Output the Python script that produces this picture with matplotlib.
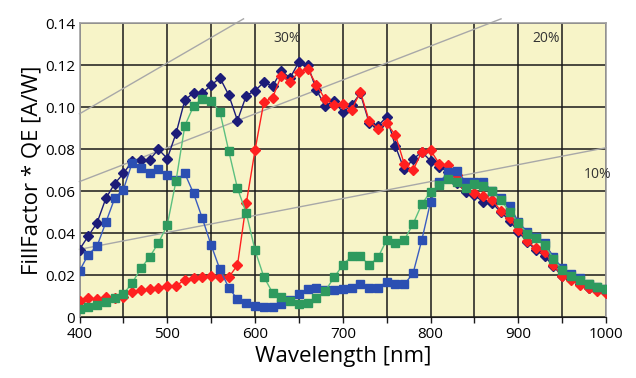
import numpy as np
import matplotlib
matplotlib.use('Agg')
import matplotlib.pyplot as plt

plt.rcParams['font.family'] = ['Open Sans', 'DejaVu Sans']

wavelength = np.arange(400, 1001, 10)

mono = [0.0322, 0.0386, 0.0449, 0.0565, 0.0635, 0.0684, 0.0742, 0.0748, 0.0750, 0.0799,
        0.0755, 0.0875, 0.1033, 0.1068, 0.1067, 0.1104, 0.1139, 0.1058, 0.0936, 0.1055,
        0.1078, 0.1118, 0.1100, 0.1172, 0.1139, 0.1215, 0.1200, 0.1081, 0.1005, 0.1030,
        0.0975, 0.1010, 0.1065, 0.0925, 0.0910, 0.0954, 0.0813, 0.0703, 0.0751, 0.0787,
        0.0744, 0.0716, 0.0692, 0.0637, 0.0597, 0.0580, 0.0549, 0.0545, 0.0500, 0.0459,
        0.0406, 0.0360, 0.0319, 0.0290, 0.0243, 0.0195, 0.0180, 0.0158, 0.0140, 0.0128,
        0.0118]

red = [0.0078, 0.0089, 0.0084, 0.0097, 0.0089, 0.0097, 0.0121, 0.0129, 0.0132, 0.0137,
       0.0148, 0.0148, 0.0179, 0.0184, 0.0192, 0.0195, 0.0189, 0.0189, 0.0248, 0.0541,
       0.0795, 0.1023, 0.1045, 0.1150, 0.1121, 0.1168, 0.1182, 0.1105, 0.1037, 0.1010,
       0.1013, 0.0986, 0.1073, 0.0935, 0.0898, 0.0922, 0.0867, 0.0729, 0.0700, 0.0787,
       0.0795, 0.0729, 0.0722, 0.0676, 0.0620, 0.0589, 0.0576, 0.0560, 0.0506, 0.0470,
       0.0414, 0.0363, 0.0327, 0.0311, 0.0248, 0.0195, 0.0176, 0.0152, 0.0137, 0.0125,
       0.0113]

blue = [0.0220, 0.0298, 0.0338, 0.0451, 0.0565, 0.0607, 0.0735, 0.0708, 0.0684, 0.0704,
        0.0676, 0.0652, 0.0684, 0.0589, 0.0470, 0.0343, 0.0227, 0.0141, 0.0084, 0.0068,
        0.0053, 0.0046, 0.0046, 0.0062, 0.0081, 0.0108, 0.0132, 0.0140, 0.0129, 0.0129,
        0.0135, 0.0141, 0.0157, 0.0140, 0.0140, 0.0168, 0.0156, 0.0156, 0.0208, 0.0367,
        0.0549, 0.0641, 0.0690, 0.0697, 0.0644, 0.0644, 0.0645, 0.0600, 0.0565, 0.0530,
        0.0454, 0.0406, 0.0382, 0.0351, 0.0287, 0.0232, 0.0205, 0.0184, 0.0160, 0.0144,
        0.0132]

green = [0.0041, 0.0049, 0.0057, 0.0070, 0.0089, 0.0110, 0.0163, 0.0232, 0.0287, 0.0354,
         0.0438, 0.0650, 0.0911, 0.1005, 0.1040, 0.1030, 0.0977, 0.0792, 0.0613, 0.0496,
         0.0318, 0.0192, 0.0116, 0.0094, 0.0078, 0.0062, 0.0068, 0.0089, 0.0125, 0.0189,
         0.0248, 0.0290, 0.0290, 0.0248, 0.0284, 0.0367, 0.0351, 0.0367, 0.0443, 0.0538,
         0.0597, 0.0629, 0.0660, 0.0645, 0.0613, 0.0632, 0.0624, 0.0602, 0.0557, 0.0502,
         0.0449, 0.0398, 0.0375, 0.0343, 0.0279, 0.0224, 0.0195, 0.0179, 0.0157, 0.0144,
         0.0132]

qe_levels = [0.30, 0.20, 0.10]
qe_labels = ['30%', '20%', '10%']
qe_label_pos = [(637, 0.1325), (932, 0.1325), (990, 0.068)]

y_ticks = [0, 0.02, 0.04, 0.06, 0.08, 0.10, 0.12, 0.14]
y_tick_labels = ['0', '0.02', '0.04', '0.06', '0.08', '0.10', '0.12', '0.14']
x_ticks = [400, 500, 600, 700, 800, 900, 1000]

fig = plt.figure(figsize=(6.36, 3.78), dpi=100)
ax = fig.add_axes([0.125, 0.161, 0.828, 0.778])
ax.set_facecolor('#f7f4c8')

# iso-QE lines: responsivity = QE * lambda / 1239.84
for qe in qe_levels:
    lam_end = min(1000, 0.142 * 1239.84 / qe)
    lam = np.array([400, lam_end])
    ax.plot(lam, qe * lam / 1239.84, color='#a8a8a8', lw=1.0, clip_on=False, zorder=1)
for txt, (lx, ly) in zip(qe_labels, qe_label_pos):
    ax.text(lx, ly, txt, fontsize=10, color='#333333', ha='center', va='center')

ax.plot(wavelength, mono, color='#1c1c78', lw=1.0, marker='D', ms=5.5, zorder=3)
ax.plot(wavelength, red, color='#ff2020', lw=1.0, marker='D', ms=5.5, zorder=4)
ax.plot(wavelength, blue, color='#3a5cc0', lw=1.0, marker='s', ms=6, mfc='#2b4fb2', mec='#2b4fb2', zorder=5)
ax.plot(wavelength, green, color='#5cc080', lw=1.0, marker='s', ms=6, mfc='#2e9a5e', mec='#2e9a5e', zorder=6)

ax.set_xlim(400, 1000)
ax.set_ylim(0, 0.14)
ax.set_xticks(np.arange(400, 1001, 50))
ax.set_xticklabels([str(t) if t in x_ticks else '' for t in range(400, 1001, 50)])
ax.set_yticks(y_ticks)
ax.set_yticklabels(y_tick_labels)
ax.grid(True, color='#1a1a1a', lw=1.1, zorder=2)
ax.set_axisbelow(True)
ax.tick_params(axis='x', length=4, width=1, color='#1a1a1a', labelsize=11, pad=3)
ax.tick_params(axis='y', length=0, labelsize=11, pad=3)

for side in ['top', 'right', 'left']:
    ax.spines[side].set_color('#a0a0a0')
    ax.spines[side].set_linewidth(1.2)
ax.spines['bottom'].set_color('#1a1a1a')

ax.set_xlabel('Wavelength [nm]', fontsize=16, labelpad=3)
ax.set_ylabel('FillFactor * QE [A/W]', fontsize=16, labelpad=2)

fig.savefig('out.png', dpi=100)
